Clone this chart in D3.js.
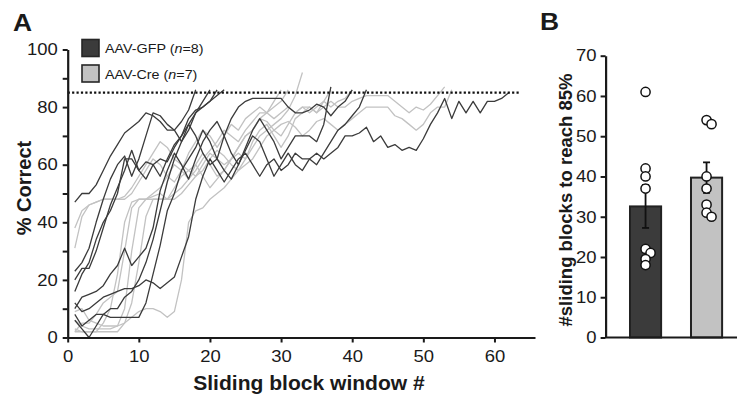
<!DOCTYPE html>
<html>
<head>
<meta charset="utf-8">
<script src="https://cdn.jsdelivr.net/npm/d3@7"></script>
<style>
  html, body { margin: 0; padding: 0; background: #fff; }
  svg { display: block; }
  text { font-family: "Liberation Sans", Arial, sans-serif; fill: #1a1a1a; }
</style>
</head>
<body>
<svg id="chart" width="737" height="397"></svg>
<script>
// ---------------- DATA ----------------
// Panel A: % correct per sliding block window (window 1 .. reach 85%)
const gfp1 = [47,50,50,53,58,63,67,71,73,75,78,77,75,72,72,75,79,86];
const gfp2 = [23,26,31,40,48,55,60,63,56,62,70,78,77,74,72,68,72,78,82,86];
const gfp3 = [20,24,24,30,38,46,52,58,65,58,55,60,62,61,66,70,74,78,80,82,86];
const gfp4 = [16,22,26,34,40,44,50,62,62,58,61,60,56,62,67,70,76,79,80,82,84,86];
const gfp5 = [10,14,15,16,18,22,25,31,25,28,31,38,51,58,64,60,55,62,68,72,75,70,64,60,66,72,76,72,68,62,66,70,70,70,68,74,87];
const gfp6 = [6,3,0,4,8,10,10,14,16,20,26,34,44,54,62,68,74,70,64,60,62,70,76,80,82,83,83,83,83,83,80,78,78,79,81,80,77,80,82,86];
const gfp7 = [8,4,6,8,8,7,7,7,7,7,12,22,32,44,50,58,62,66,72,68,62,58,55,60,65,70,68,62,56,60,64,60,58,62,60,64,68,72,74,77,80,86];
const gfp8 = [12,9,10,12,14,15,16,17,17,18,20,19,17,19,21,28,35,48,56,62,58,54,58,62,64,60,56,60,62,58,60,64,62,62,64,62,64,66,70,70,71,73,68,70,66,67,65,66,65,69,74,78,83,76,82,78,82,78,82,82,83,85];

const cre1 = [38,44,46,47,48,48,48,48,50,54,58,62,60,56,54,58,64,68,72,70,66,70,74,72,76,78,80,78,82,86];
const cre2 = [31,42,46,47,48,48,48,49,52,56,60,64,68,66,62,60,58,56,60,64,62,60,62,66,70,72,76,78,80,82,86];
const cre3 = [3,2,2,2,5,10,22,40,47,48,48,49,50,48,52,56,58,60,56,52,55,58,62,64,62,66,70,72,74,76,79,84,92];
const cre4 = [9,10,6,5,4,4,4,5,12,26,42,48,48,48,50,52,55,60,64,60,56,58,62,66,70,72,76,75,72,70,74,78,80,78,80,82,86];
const cre5 = [2,5,5,8,12,14,16,30,45,48,48,48,48,48,48,50,53,56,58,62,65,63,60,58,62,68,72,74,70,66,70,76,78,80,78,82,80,82,83,86];
const cre6 = [6,4,3,3,3,3,4,10,30,45,48,50,52,56,60,58,55,58,62,65,68,72,70,68,72,75,78,78,76,78,80,78,80,80,78,80,82,80,80,82,83,84,84,84,84,82,80,78,80,79,81,84,87];
const cre7 = [2,2,2,2,2,2,2,5,7,9,10,10,9,7,9,20,40,44,45,48,50,52,55,58,60,62,66,70,72,74,75,73,70,72,75,76,74,72,74,76,78,80,80,80,80,77,76,74,72,74,78,80,80,86];

const criterion = 85;
const xTicksA = [0,10,20,30,40,50,60];
const yTicksA = [0,10,20,30,40,50,60,70,80,90,100];
const yLabelsA = [0,20,40,60,80,100];

// Panel B: number of sliding blocks to reach 85%
const groups = ["AAV-GFP", "AAV-Cre"];
const groupN = [8, 7];
const blocksGFP = [61,42,40,37,22,21,19.5,18];
const blocksCre = [54,53,40,37,33,31,30];
const yTicksB = [0,10,20,30,40,50,60,70];

// ---------------- STYLE ----------------
const DARK = "#3b3b3b", LIGHT = "#c2c2c2", INK = "#1a1a1a";

const svg = d3.select("#chart");

function stretchText(sel, sx) {
  sel.each(function () {
    const t = d3.select(this);
    const x = +t.attr("x") || 0;
    t.attr("transform", `translate(${x},0) scale(${sx},1) translate(${-x},0)`);
  });
}
function styleAxis(g) {
  g.select(".domain").attr("stroke", INK).attr("stroke-width", 2.2);
  g.selectAll(".tick line").attr("stroke", INK).attr("stroke-width", 2);
  g.selectAll(".tick text").attr("fill", INK)
    .style("font-family", '"Liberation Sans", Arial, sans-serif')
    .style("font-size", "16.5px");
}

// ---------------- PANEL A ----------------
const xA = d3.scaleLinear().domain([0, 65.7]).range([67.7, 535]);
const yA = d3.scaleLinear().domain([0, 100]).range([337.5, 49.5]);

const creSeries = [cre1, cre2, cre3, cre4, cre5, cre6, cre7];
const gfpSeries = [gfp1, gfp2, gfp3, gfp4, gfp5, gfp6, gfp7, gfp8];

const line = d3.line().x((d, i) => xA(i + 1)).y(d => yA(d));

const gA = svg.append("g");
gA.selectAll("path.cre").data(creSeries).join("path")
  .attr("class", "cre").attr("d", line)
  .attr("fill", "none").attr("stroke", LIGHT).attr("stroke-width", 1.3)
  .attr("stroke-linejoin", "round");
gA.selectAll("path.gfp").data(gfpSeries).join("path")
  .attr("class", "gfp").attr("d", line)
  .attr("fill", "none").attr("stroke", DARK).attr("stroke-width", 1.3)
  .attr("stroke-linejoin", "round");

// criterion dotted line
gA.append("line")
  .attr("x1", xA(0)).attr("x2", xA(63.6))
  .attr("y1", yA(criterion)).attr("y2", yA(criterion))
  .attr("stroke", "#111").attr("stroke-width", 2.3)
  .attr("stroke-dasharray", "2.2,2.2");

// axes
const axLA = svg.append("g").attr("transform", `translate(${xA(0)},0)`)
  .call(d3.axisLeft(yA).tickValues(yTicksA).tickSize(5).tickSizeOuter(0).tickPadding(5)
    .tickFormat(d => yLabelsA.includes(d) ? d : ""));
styleAxis(axLA);
stretchText(axLA.selectAll(".tick text"), 1.12);

const axBA = svg.append("g").attr("transform", `translate(0,${yA(0)})`)
  .call(d3.axisBottom(xA).tickValues(xTicksA).tickSize(5).tickSizeOuter(0).tickPadding(8));
styleAxis(axBA);
stretchText(axBA.selectAll(".tick text"), 1.12);

// axis labels
const xl = svg.append("text").attr("x", 309).attr("y", 390)
  .attr("text-anchor", "middle").style("font-weight", "bold").style("font-size", "19.5px")
  .text("Sliding block window #");
stretchText(xl, 1.08);

svg.append("text").attr("transform", "translate(31,188) rotate(-90)")
  .attr("text-anchor", "middle").style("font-weight", "bold").style("font-size", "20px")
  .text("% Correct");

// panel letter
const la = svg.append("text").attr("x", 13).attr("y", 31)
  .style("font-weight", "bold").style("font-size", "24px").text("A");
stretchText(la, 1.1);

// legend
const legColors = [DARK, LIGHT];
const leg = svg.append("g");
groups.forEach((g, i) => {
  const y0 = 39.5 + i * 25.5;
  leg.append("rect").attr("x", 82).attr("y", y0).attr("width", 17).attr("height", 17)
    .attr("fill", legColors[i]).attr("stroke", "#262626").attr("stroke-width", 1.6);
  const t = leg.append("text").attr("x", 105).attr("y", y0 + 13.8)
    .style("font-size", "13.5px");
  t.append("tspan").text(g + " (");
  t.append("tspan").style("font-style", "italic").text("n");
  t.append("tspan").text("=" + groupN[i] + ")");
  stretchText(t, 1.06);
});

// ---------------- PANEL B ----------------
const yB = d3.scaleLinear().domain([0, 70]).range([337.5, 55.7]);
const xB = d3.scaleBand().domain(groups).range([605.6, 746.5])
  .paddingInner(0.49).paddingOuter(0.4);

const blockSets = [blocksGFP, blocksCre];
const stats = blockSets.map((vals, i) => {
  const m = d3.mean(vals);
  const sem = d3.deviation(vals) / Math.sqrt(vals.length);
  return { g: groups[i], mean: m, sem: sem, vals: vals, color: legColors[i] };
});

const gB = svg.append("g");
gB.selectAll("rect.bar").data(stats).join("rect")
  .attr("class", "bar")
  .attr("x", d => xB(d.g)).attr("width", xB.bandwidth())
  .attr("y", d => yB(d.mean)).attr("height", d => yB(0) - yB(d.mean))
  .attr("fill", d => d.color).attr("stroke", "#222").attr("stroke-width", 2);

// error bars
const capW = 3.5;
stats.forEach(d => {
  const cx = xB(d.g) + xB.bandwidth() / 2;
  const lo = yB(d.mean - d.sem), hi = yB(d.mean + d.sem);
  gB.append("line").attr("x1", cx).attr("x2", cx).attr("y1", lo).attr("y2", hi)
    .attr("stroke", "#111").attr("stroke-width", 1.8);
  [lo, hi].forEach(yy => gB.append("line")
    .attr("x1", cx - capW).attr("x2", cx + capW).attr("y1", yy).attr("y2", yy)
    .attr("stroke", "#111").attr("stroke-width", 1.8));
});

// individual points with simple swarm offsets
const r = 4.6;
stats.forEach(d => {
  const cx = xB(d.g) + xB.bandwidth() / 2;
  const placed = [];
  d.vals.forEach(v => {
    const yy = yB(v);
    const cands = [0, 5, -5, 10, -10];
    let off = 0;
    for (const c of cands) {
      if (placed.every(p => Math.hypot(p.x - (cx + c), p.y - yy) >= 6)) { off = c; break; }
    }
    placed.push({ x: cx + off, y: yy });
  });
  gB.selectAll(null).data(placed).join("circle")
    .attr("cx", p => p.x).attr("cy", p => p.y).attr("r", r)
    .attr("fill", "#fff").attr("stroke", "#111").attr("stroke-width", 1.5);
});

// axes B
const axLB = svg.append("g").attr("transform", `translate(${xB.range()[0]},0)`)
  .call(d3.axisLeft(yB).tickValues(yTicksB).tickSize(5).tickSizeOuter(0).tickPadding(4));
styleAxis(axLB);
stretchText(axLB.selectAll(".tick text"), 1.12);

svg.append("line").attr("x1", xB.range()[0]).attr("x2", 737)
  .attr("y1", yB(0)).attr("y2", yB(0))
  .attr("stroke", INK).attr("stroke-width", 2.2);

svg.append("text").attr("transform", "translate(572,200) rotate(-90)")
  .attr("text-anchor", "middle").style("font-weight", "bold").style("font-size", "18.5px")
  .text("#sliding blocks to reach 85%");

const lb = svg.append("text").attr("x", 540).attr("y", 30)
  .style("font-weight", "bold").style("font-size", "24px").text("B");
stretchText(lb, 1.1);
</script>
</body>
</html>
